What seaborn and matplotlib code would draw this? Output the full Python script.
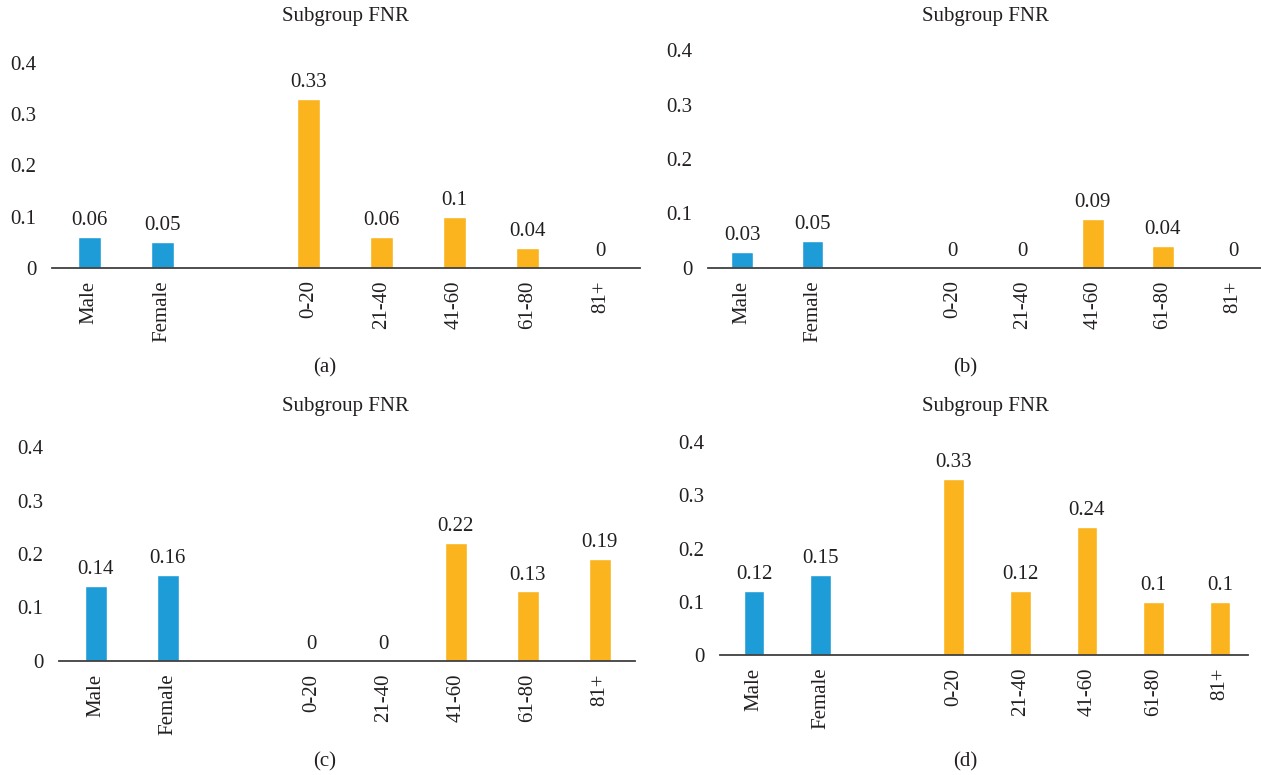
import numpy as np
import pandas as pd
import matplotlib.pyplot as plt
import seaborn as sns

# Data (blank slot separates sex and age groups)
categories = ["Male", "Female", " ", "0-20", "21-40", "41-60", "61-80", "81+"]
kinds = ["sex", "sex", "", "age", "age", "age", "age", "age"]
fnr_a = [0.06, 0.05, np.nan, 0.33, 0.06, 0.10, 0.04, 0.0]
fnr_b = [0.03, 0.05, np.nan, 0.0, 0.0, 0.09, 0.04, 0.0]
fnr_c = [0.14, 0.16, np.nan, 0.0, 0.0, 0.22, 0.13, 0.19]
fnr_d = [0.12, 0.15, np.nan, 0.33, 0.12, 0.24, 0.10, 0.10]
yticks = [0, 0.1, 0.2, 0.3, 0.4]
ytick_labels = ["0", "0.1", "0.2", "0.3", "0.4"]
panel_labels = ["(a)", "(b)", "(c)", "(d)"]
title = "Subgroup FNR"

colors = {"sex": "#1E9CD7", "age": "#FBB41D"}
FS = 15

W, H = 1261, 775
sns.set_style("white")
plt.rcParams['font.family'] = ['Liberation Serif', 'DejaVu Serif']
plt.rcParams['font.size'] = FS

fig = plt.figure(figsize=(W / 100, H / 100), dpi=100)

# pixel layout per panel: axis left/right, zero line y, 0.4 y, xlim, title x/y, label y
layout = [
    dict(x0=52, x1=640, y0=268, y4=63, xl=(-0.51, 7.54), tx=345, ty=17, ly=368),
    dict(x0=708, x1=1261, y0=268, y4=50, xl=(-0.49, 7.40), tx=985, ty=17, ly=368),
    dict(x0=59, x1=635, y0=661, y4=447, xl=(-0.51, 7.49), tx=345, ty=407, ly=762),
    dict(x0=720, x1=1248, y0=655, y4=442, xl=(-0.51, 7.42), tx=985, ty=407, ly=762),
]

for vals, lay, plab in zip([fnr_a, fnr_b, fnr_c, fnr_d], layout, panel_labels):
    df = pd.DataFrame({"group": categories, "fnr": vals, "kind": kinds}).dropna()
    ax = fig.add_axes([lay["x0"] / W, 1 - lay["y0"] / H,
                       (lay["x1"] - lay["x0"]) / W, (lay["y0"] - lay["y4"]) / H])
    sns.barplot(data=df, x="group", y="fnr", hue="kind", order=categories,
                palette=colors, dodge=False, width=0.31, legend=False,
                saturation=1, ax=ax)
    for c in ax.containers:
        ax.bar_label(c, labels=[f"{b.get_height():g}" for b in c], padding=5,
                     fontsize=FS, color="#231F20")
    ax.set_xlim(*lay["xl"])
    ax.set_ylim(0, 0.4)
    ax.set_yticks(yticks)
    ax.set_yticklabels(ytick_labels)
    ax.tick_params(axis="y", length=0, pad=11, labelsize=FS, labelcolor="#231F20")
    ax.tick_params(axis="x", length=0, pad=9, labelsize=FS, labelcolor="#231F20",
                   labelrotation=90)
    ax.set_xlabel("")
    ax.set_ylabel("")
    for s in ["left", "top", "right"]:
        ax.spines[s].set_visible(False)
    ax.spines["bottom"].set_color("#404040")
    ax.spines["bottom"].set_linewidth(1.3)
    ax.set_facecolor("none")

    fig.text(lay["tx"] / W, 1 - lay["ty"] / H, title, ha="center", va="center",
             fontsize=FS, color="#231F20")
    fig.text((lay["tx"] - 20) / W, 1 - lay["ly"] / H, plab, ha="center", va="center",
             fontsize=FS, color="#231F20")

fig.savefig("out.png", dpi=100)
